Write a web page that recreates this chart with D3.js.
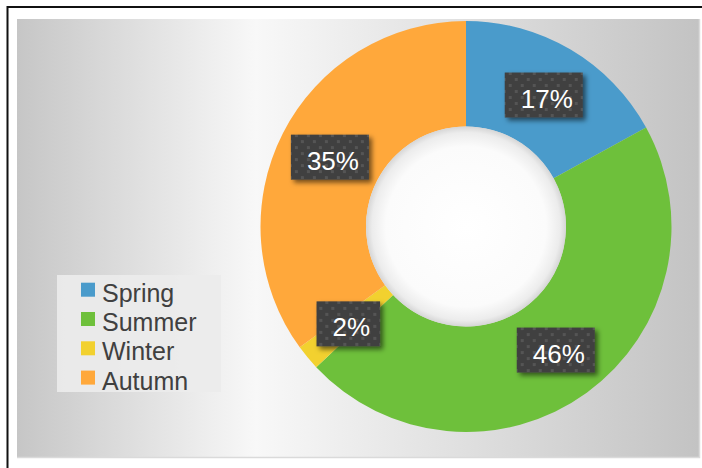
<!DOCTYPE html>
<html>
<head>
<meta charset="utf-8">
<script src="https://cdn.jsdelivr.net/npm/d3@7"></script>
<style>
  body { margin: 0; background: #fff; }
  svg { display: block; font-family: "Liberation Sans", Arial, sans-serif; }
</style>
</head>
<body>
<svg width="702" height="468"></svg>
<script>
// season shares (percent)
var seasons = ["Spring", "Summer", "Winter", "Autumn"];
var shares = [17, 46, 2, 35];
var colors = ["#4a9bcb", "#6ec03b", "#f2d12f", "#ffa83b"];

var svg = d3.select("svg"),
    width = +svg.attr("width"),
    height = +svg.attr("height");

var defs = svg.append("defs");

// plot area background: light band left of the donut
var bg = defs.append("linearGradient").attr("id", "bg")
    .attr("x1", 0).attr("x2", 1).attr("y1", 0).attr("y2", 0);
bg.append("stop").attr("offset", "0").attr("stop-color", "#c6c6c6");
bg.append("stop").attr("offset", "0.35").attr("stop-color", "#f8f8f8");
bg.append("stop").attr("offset", "0.6").attr("stop-color", "#e4e4e4");
bg.append("stop").attr("offset", "1").attr("stop-color", "#c3c3c3");

// hole with inner shadow
var hole = defs.append("radialGradient").attr("id", "hole");
hole.append("stop").attr("offset", "0").attr("stop-color", "#ffffff");
hole.append("stop").attr("offset", "0.8").attr("stop-color", "#fbfbfb");
hole.append("stop").attr("offset", "0.94").attr("stop-color", "#ececec");
hole.append("stop").attr("offset", "1").attr("stop-color", "#d6d6d6");

// dotted pattern for label boxes
var pat = defs.append("pattern").attr("id", "dots")
    .attr("patternUnits", "userSpaceOnUse")
    .attr("width", 12).attr("height", 12);
pat.append("rect").attr("width", 12).attr("height", 12).attr("fill", "#404040");
pat.append("rect").attr("x", 1).attr("y", 1).attr("width", 3).attr("height", 3).attr("fill", "#555");
pat.append("rect").attr("x", 7).attr("y", 7).attr("width", 3).attr("height", 3).attr("fill", "#555");

var sh = defs.append("filter").attr("id", "shadow")
    .attr("x", "-20%").attr("y", "-20%").attr("width", "150%").attr("height", "160%");
sh.append("feDropShadow").attr("dx", 3).attr("dy", 3).attr("stdDeviation", 2.5)
    .attr("flood-color", "#000").attr("flood-opacity", 0.55);

// chart frame
svg.append("rect")
    .attr("x", 7.5).attr("y", 7).attr("width", 710).attr("height", 480)
    .attr("fill", "#fff").attr("stroke", "#111").attr("stroke-width", 2);

// plot area
svg.append("rect")
    .attr("x", 17).attr("y", 19).attr("width", 682).attr("height", 438)
    .attr("fill", "url(#bg)");
svg.append("path")
    .attr("d", "M17,457.5 H699.5 V19")
    .attr("fill", "none").attr("stroke", "#dadada").attr("stroke-width", 1.5);

var cx = 466, cy = 226.5,
    outerR = 205.5, innerR = 100;

var pie = d3.pie().sort(null).value(function(d) { return d.share; });
var arc = d3.arc().innerRadius(innerR).outerRadius(outerR);

var data = seasons.map(function(s, i) {
  return { season: s, share: shares[i], color: colors[i] };
});

var g = svg.append("g").attr("transform", "translate(" + cx + "," + cy + ")");

g.selectAll("path.slice")
  .data(pie(data))
  .enter()
  .append("path")
  .attr("class", "slice")
  .attr("d", arc)
  .attr("fill", function(d) { return d.data.color; });

g.append("circle").attr("r", innerR).attr("fill", "url(#hole)");

// data labels
var labels = g.selectAll("g.lbl")
  .data(pie(data))
  .enter()
  .append("g")
  .attr("class", "lbl")
  .attr("transform", function(d) { return "translate(" + arc.centroid(d) + ")"; });

labels.each(function(d) {
  var lg = d3.select(this);
  var box = lg.append("rect").attr("fill", "url(#dots)").attr("filter", "url(#shadow)");
  var t = lg.append("text")
    .attr("x", 3).attr("y", 12.5)
    .attr("text-anchor", "middle")
    .attr("fill", "#fff")
    .attr("font-size", 26)
    .text(d.data.share + "%");
  var w = t.node().getComputedTextLength() + 26;
  box.attr("x", -w / 2).attr("y", -22.5).attr("width", w).attr("height", 45);
});

// legend
var legend = svg.append("g");
legend.append("rect")
  .attr("x", 57).attr("y", 275).attr("width", 164).attr("height", 117)
  .attr("fill", "#ebebeb").attr("opacity", 0.92);

var items = legend.selectAll("g.item")
  .data(data)
  .enter()
  .append("g")
  .attr("class", "item")
  .attr("transform", function(d, i) { return "translate(81," + (289.7 + i * 29.3) + ")"; });

items.append("rect")
  .attr("x", 0).attr("y", -7).attr("width", 14).attr("height", 14)
  .attr("fill", function(d) { return d.color; });
items.append("text")
  .attr("x", 21).attr("y", 12)
  .attr("font-size", 25)
  .attr("fill", "#404040")
  .text(function(d) { return d.season; });
</script>
</body>
</html>
